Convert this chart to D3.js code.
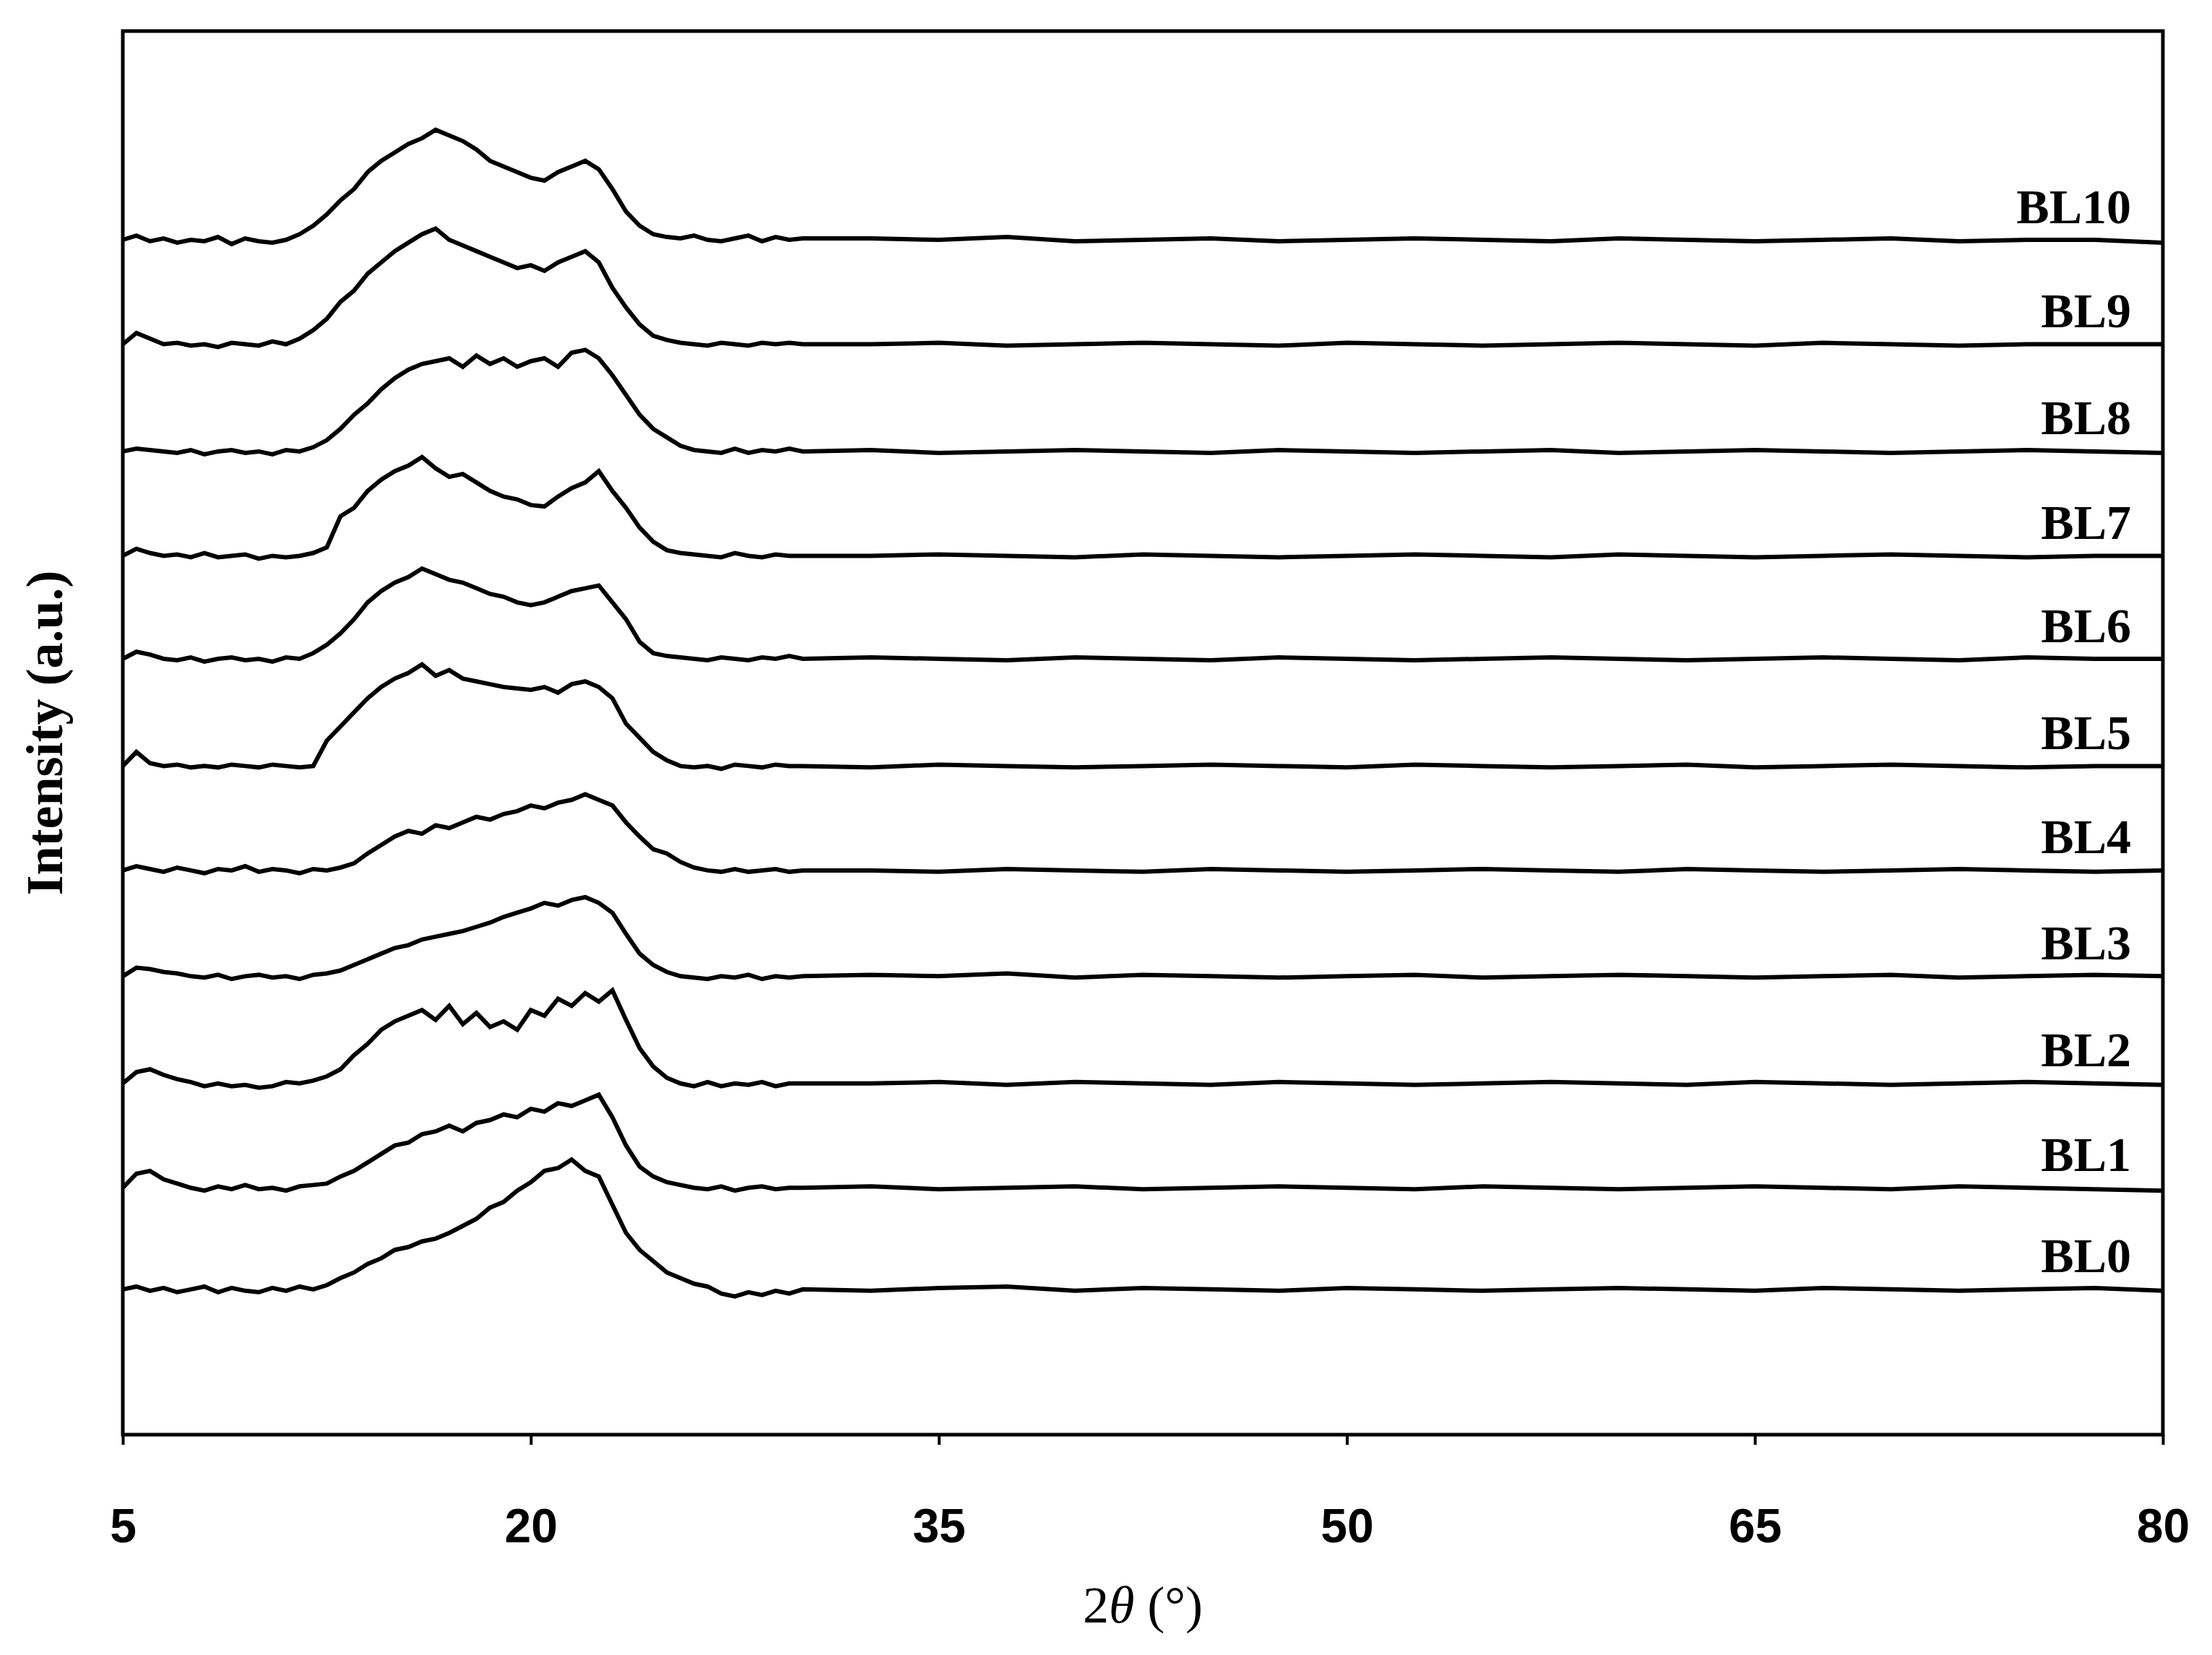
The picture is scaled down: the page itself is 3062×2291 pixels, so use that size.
<!DOCTYPE html>
<html><head><meta charset="utf-8">
<script src="https://cdn.jsdelivr.net/npm/d3@7"></script>
<style>body{margin:0;background:#fff}</style></head>
<body><svg id="c" width="3062" height="2291"></svg>
<script>
const names = ["BL0","BL1","BL2","BL3","BL4","BL5","BL6","BL7","BL8","BL9","BL10"];
const offsets = [103,175,249,325,400,474,550,623,697,773,847];
// intensity at 2θ = 5, 5.5, ..., 30
const head = {
BL0:[0,2,-1,1,-2,0,2,-2,1,-1,-2,1,-1,2,0,3,8,12,18,22,28,30,34,36,40,45,50,58,62,70,76,84,86,92,84,80,60,40,28,20,12,8,4,2,-3,-5,-2,-4,-1,-3,0],
BL1:[0,10,12,6,3,0,-2,1,-1,2,-1,0,-2,1,2,3,8,12,18,24,30,32,38,40,44,40,46,48,52,50,56,54,60,58,62,66,50,30,15,8,4,2,0,-1,1,-2,0,1,-1,0,0],
BL2:[0,8,10,6,3,1,-2,0,-2,-1,-3,-2,1,0,2,5,10,20,28,38,44,48,52,45,55,42,50,40,44,38,52,48,60,55,64,58,66,45,25,12,4,0,-2,1,-2,0,-1,1,-2,0,0],
BL3:[0,6,5,3,2,0,-1,1,-2,0,1,-1,0,-2,1,2,4,8,12,16,20,22,26,28,30,32,35,38,42,45,48,52,50,54,56,52,45,30,16,8,3,0,-1,-2,0,-1,1,-2,0,-1,0],
BL4:[0,3,1,-1,2,0,-2,1,0,3,-1,1,0,-2,1,0,2,5,12,18,24,28,26,32,30,34,38,36,40,42,46,44,48,50,54,50,46,34,24,15,12,6,2,0,-1,1,-1,0,1,-1,0],
BL5:[0,10,2,0,1,-1,0,-1,1,0,-1,1,0,-1,0,18,28,38,48,56,62,66,72,64,68,62,60,58,56,55,54,56,52,58,60,56,48,30,20,10,4,0,-1,0,-2,1,0,-1,1,0,0],
BL6:[0,5,3,0,-1,1,-2,0,1,-1,0,-2,1,0,4,10,18,28,40,48,54,58,64,60,56,54,50,46,44,40,38,40,44,48,50,52,40,28,12,4,2,1,0,-1,1,0,-1,1,0,2,0],
BL7:[0,5,2,0,1,-1,2,-1,0,1,-2,0,-1,0,2,6,28,34,46,54,60,64,70,62,56,58,52,46,42,40,36,35,42,48,52,60,46,34,20,10,4,2,1,0,-1,2,0,-1,1,0,0],
BL8:[0,2,1,0,-1,1,-2,0,1,-1,0,-2,1,0,3,8,16,26,34,44,52,58,62,64,66,60,68,62,66,60,64,66,60,70,72,66,54,40,26,16,10,4,1,0,-1,2,-1,1,0,2,0],
BL9:[0,8,4,0,1,-1,0,-2,1,0,-1,2,0,4,10,18,30,38,50,58,66,72,78,82,74,70,66,62,58,54,56,52,58,62,66,58,40,26,14,6,3,1,0,-1,1,0,-1,1,0,1,0],
BL10:[0,3,-1,1,-2,0,-1,2,-3,1,-1,-2,0,4,10,18,28,36,48,56,62,68,72,78,74,70,64,56,52,48,44,42,48,52,56,50,36,20,10,4,2,1,3,0,-1,1,3,-1,2,0,1]
};
// intensity at 2θ = 32.5, 35, ..., 80
const tail = {
BL0:[-1,1,2,-1,1,0,-1,1,0,-1,0,1,0,-1,1,0,-1,0,1,-1],
BL1:[1,-1,0,1,-1,0,1,0,-1,1,0,-1,0,1,0,-1,1,0,-1,-2],
BL2:[0,1,-1,1,0,-1,1,0,-1,0,1,0,-1,1,0,-1,0,1,0,-1],
BL3:[1,0,2,-1,1,0,-1,0,1,-1,0,1,0,-1,0,1,-1,0,1,0],
BL4:[0,-1,1,0,-1,1,0,-1,0,1,0,-1,1,0,-1,0,1,0,-1,0],
BL5:[-1,1,0,-1,0,1,0,-1,1,0,-1,0,1,-1,0,1,0,-1,0,0],
BL6:[1,0,-1,1,0,-1,1,0,-1,0,1,0,-1,0,1,0,-1,1,0,0],
BL7:[0,1,0,-1,1,0,-1,0,1,0,-1,1,0,-1,0,1,0,-1,0,0],
BL8:[1,-1,0,1,0,-1,1,0,-1,0,1,-1,0,1,0,-1,0,1,0,-1],
BL9:[0,1,-1,0,1,0,-1,1,0,-1,0,1,0,-1,1,0,-1,0,0,0],
BL10:[1,0,2,-1,0,1,-1,0,1,0,-1,1,0,-1,0,1,-1,0,0,-2]
};
const xTicks = [5,20,35,50,65,80];

const svg = d3.select("#c");
const L=170, R=2994, T=43, B=1986;
const x = d3.scaleLinear().domain([5,80]).range([L,R]);
const y = d3.scaleLinear().domain([0,995]).range([B,T]);
const line = d3.line().x(d=>x(d[0])).y(d=>y(d[1]));

names.forEach((n,i)=>{
  const pts = head[n].map((v,j)=>[5+0.5*j, v+offsets[i]])
    .concat(tail[n].map((v,j)=>[32.5+2.5*j, v+offsets[i]]));
  svg.append("path").attr("d",line(pts)).attr("fill","none")
    .attr("stroke","#000").attr("stroke-width",6).attr("stroke-linejoin","miter");
  svg.append("text").attr("x",2950).attr("y",y(offsets[i]+12))
    .attr("text-anchor","end").attr("font-family","Liberation Serif")
    .attr("font-weight","bold").attr("font-size",68).text(n);
});

svg.append("rect").attr("x",L).attr("y",T).attr("width",R-L).attr("height",B-T)
  .attr("fill","none").attr("stroke","#000").attr("stroke-width",5);

const ax = svg.append("g").attr("transform",`translate(0,${B})`)
  .call(d3.axisBottom(x).tickValues(xTicks).tickSize(14).tickPadding(88).tickFormat(d3.format("d")));
ax.select(".domain").remove();
ax.selectAll("line").attr("stroke","#000").attr("stroke-width",4);
ax.selectAll("text").attr("font-family","Liberation Sans").attr("font-weight","bold")
  .attr("font-size",66).attr("fill","#000");

const xt = svg.append("text").attr("x",(L+R)/2).attr("y",2246).attr("text-anchor","middle")
  .attr("font-family","Liberation Serif").attr("font-size",72);
xt.append("tspan").text("2");
xt.append("tspan").attr("font-style","italic").text("θ");
xt.append("tspan").text(" (°)");

svg.append("text").attr("transform",`translate(86,${(T+B)/2}) rotate(-90)`)
  .attr("text-anchor","middle").attr("font-family","Liberation Serif")
  .attr("font-weight","bold").attr("font-size",72).text("Intensity (a.u.)");
</script></body></html>
